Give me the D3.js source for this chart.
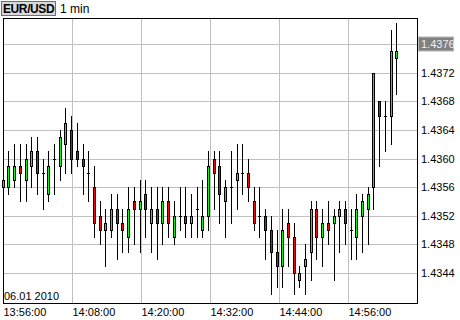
<!DOCTYPE html>
<html>
<head>
<meta charset="utf-8">
<script src="https://cdn.jsdelivr.net/npm/d3@7"></script>
<style>
  body { margin: 0; background: #fff; }
  text { font-family: "Liberation Sans", Arial, sans-serif; }
</style>
</head>
<body>
<script>
const chartWidth = 460;
const chartHeight = 320;
const plotLeft = 3, plotRight = 417, plotTop = 18, plotBottom = 303;

const symbol = "EUR/USD";
const period = "1 min";
const dateLabel = "06.01 2010";
const priceTicks = [1.4344, 1.4348, 1.4352, 1.4356, 1.4360, 1.4364, 1.4368, 1.4372, 1.4376];
const lastPriceTick = 1.4376;
const timeTicks = ["13:56:00", "14:08:00", "14:20:00", "14:32:00", "14:44:00", "14:56:00"];

// one candle per minute, starting 13:56
const opens = [
  1.4356, 1.4356, 1.4357, 1.4359, 1.4357, 1.4359, 1.4361, 1.4358, 1.4355, 1.4360,
  1.4359, 1.4362, 1.4364, 1.4361, 1.4360, 1.4358, 1.4356, 1.4352, 1.4350, 1.4350,
  1.4353, 1.4351, 1.4349, 1.4354, 1.4353, 1.4355, 1.4351, 1.4353, 1.4351, 1.4354,
  1.4349, 1.4352, 1.4352, 1.4351, 1.4353, 1.4350, 1.4352, 1.4360, 1.4359, 1.4354,
  1.4356, 1.4357, 1.4358, 1.4358, 1.4354, 1.4352, 1.4352, 1.4350, 1.4347, 1.4345,
  1.4351, 1.4349, 1.4343, 1.4345, 1.4347, 1.4353, 1.4349, 1.4351, 1.4351, 1.4352,
  1.4353, 1.4350, 1.4349, 1.4352, 1.4353, 1.4356, 1.4368, 1.4366, 1.4366, 1.4374
];
const highs = [
  1.4359, 1.4361, 1.4362, 1.4362, 1.4362, 1.4363, 1.4363, 1.4360, 1.4361, 1.4362,
  1.4364, 1.4367, 1.4366, 1.4365, 1.4362, 1.4361, 1.4359, 1.4354, 1.4353, 1.4355,
  1.4355, 1.4353, 1.4356, 1.4356, 1.4357, 1.4357, 1.4356, 1.4356, 1.4356, 1.4356,
  1.4354, 1.4356, 1.4356, 1.4355, 1.4356, 1.4357, 1.4361, 1.4361, 1.4361, 1.4357,
  1.4361, 1.4362, 1.4362, 1.4360, 1.4356, 1.4356, 1.4353, 1.4352, 1.4350, 1.4353,
  1.4353, 1.4351, 1.4345, 1.4348, 1.4354, 1.4354, 1.4353, 1.4354, 1.4353, 1.4354,
  1.4354, 1.4353, 1.4355, 1.4355, 1.4356, 1.4372, 1.4368, 1.4368, 1.4378, 1.4379
];
const lows = [
  1.4352, 1.4355, 1.4356, 1.4354, 1.4354, 1.4356, 1.4355, 1.4353, 1.4354, 1.4355,
  1.4357, 1.4358, 1.4358, 1.4359, 1.4355, 1.4354, 1.4349, 1.4348, 1.4345, 1.4349,
  1.4346, 1.4347, 1.4347, 1.4348, 1.4347, 1.4349, 1.4347, 1.4346, 1.4348, 1.4349,
  1.4348, 1.4350, 1.4349, 1.4349, 1.4349, 1.4349, 1.4350, 1.4353, 1.4351, 1.4349,
  1.4351, 1.4353, 1.4355, 1.4354, 1.4350, 1.4349, 1.4346, 1.4341, 1.4342, 1.4342,
  1.4345, 1.4341, 1.4342, 1.4341, 1.4343, 1.4346, 1.4345, 1.4348, 1.4343, 1.4347,
  1.4348, 1.4346, 1.4346, 1.4347, 1.4348, 1.4353, 1.4359, 1.4361, 1.4362, 1.4369
];
const closes = [
  1.4357, 1.4359, 1.4359, 1.4358, 1.4360, 1.4361, 1.4358, 1.4358, 1.4359, 1.4360,
  1.4363, 1.4365, 1.4360, 1.4360, 1.4359, 1.4358, 1.4351, 1.4350, 1.4351, 1.4353,
  1.4351, 1.4350, 1.4353, 1.4353, 1.4354, 1.4353, 1.4353, 1.4351, 1.4354, 1.4351,
  1.4352, 1.4352, 1.4351, 1.4352, 1.4353, 1.4352, 1.4359, 1.4358, 1.4355, 1.4356,
  1.4356, 1.4358, 1.4358, 1.4356, 1.4351, 1.4352, 1.4350, 1.4347, 1.4345, 1.4350,
  1.4349, 1.4344, 1.4344, 1.4346, 1.4353, 1.4349, 1.4351, 1.4350, 1.4352, 1.4353,
  1.4351, 1.4350, 1.4353, 1.4354, 1.4355, 1.4372, 1.4366, 1.4366, 1.4375, 1.4375
];

const candles = opens.map((o, i) => ({ i: i, o: o, h: highs[i], l: lows[i], c: closes[i] }));

const parseTime = d3.timeParse("%H:%M:%S");
const xTime = d3.scaleTime()
  .domain([parseTime("13:56:00"), parseTime("15:08:00")])
  .range([plotLeft, plotRight]);
const xCandle = d3.scaleLinear()
  .domain([0, candles.length - 1])
  .range([3.2, 396.8]);
const y = d3.scaleLinear()
  .domain([1.4344, 1.4376])
  .rangeRound([273, 44]);

const svg = d3.select("body")
  .append("svg")
  .attr("width", chartWidth)
  .attr("height", chartHeight);

// price grid + labels on the right
const yAxis = svg.append("g")
  .attr("transform", "translate(" + plotRight + ",0)")
  .call(d3.axisRight(y)
    .tickValues(priceTicks)
    .tickSize(-(plotRight - plotLeft))
    .tickPadding(4)
    .tickFormat(d3.format(".4f")));
yAxis.select(".domain").remove();
yAxis.selectAll("line").attr("stroke", "#c0c0c0");
yAxis.selectAll("text")
  .attr("font-size", 11)
  .attr("font-family", "Liberation Sans, Arial, sans-serif")
  .attr("fill", "#000");

// highlighted last price
const lastTick = yAxis.selectAll(".tick").filter(d => d === lastPriceTick);
lastTick.insert("rect", "text")
  .attr("x", 1.5)
  .attr("y", -7.5)
  .attr("width", 35)
  .attr("height", 14)
  .attr("fill", "#808080")
  .attr("stroke", "#b8b8b8");
lastTick.select("text").attr("fill", "#f0f0f0");

// time grid + labels
const xAxis = svg.append("g")
  .attr("transform", "translate(0," + plotBottom + ")")
  .call(d3.axisBottom(xTime)
    .tickValues(timeTicks.map(parseTime))
    .tickSize(-(plotBottom - plotTop))
    .tickFormat(d3.timeFormat("%H:%M:%S")));
xAxis.select(".domain").remove();
xAxis.selectAll("line").attr("stroke", "#c0c0c0");
xAxis.selectAll("text")
  .attr("font-size", 11)
  .attr("font-family", "Liberation Sans, Arial, sans-serif")
  .attr("fill", "#000")
  .attr("text-anchor", "start")
  .attr("x", 0)
  .attr("y", 13)
  .attr("dy", null);

// frame
svg.append("rect")
  .attr("x", plotLeft + 0.5)
  .attr("y", plotTop + 0.5)
  .attr("width", plotRight - plotLeft)
  .attr("height", plotBottom - plotTop)
  .attr("fill", "none")
  .attr("stroke", "#000");

svg.append("text")
  .attr("x", 4)
  .attr("y", 299.5)
  .attr("font-size", 11)
  .text(dateLabel);

// candles
const cx = d => Math.floor(xCandle(d.i));
const g = svg.append("g");

g.selectAll(".wick")
  .data(candles)
  .enter()
  .append("line")
  .attr("class", "wick")
  .attr("x1", d => cx(d) + 0.5)
  .attr("x2", d => cx(d) + 0.5)
  .attr("y1", d => y(d.h))
  .attr("y2", d => y(d.l) + 1)
  .attr("stroke", "#000");

g.selectAll(".body")
  .data(candles.filter(d => d.o !== d.c))
  .enter()
  .append("rect")
  .attr("class", "body")
  .attr("x", d => cx(d) - 0.5)
  .attr("y", d => y(Math.max(d.o, d.c)) + 0.5)
  .attr("width", 2)
  .attr("height", d => y(Math.min(d.o, d.c)) - y(Math.max(d.o, d.c)))
  .attr("fill", d => d.c > d.o ? "#00ff00" : "#ff0000")
  .attr("stroke", "#000");

g.selectAll(".doji")
  .data(candles.filter(d => d.o === d.c))
  .enter()
  .append("line")
  .attr("class", "doji")
  .attr("x1", d => cx(d) - 1)
  .attr("x2", d => cx(d) + 2)
  .attr("y1", d => y(d.o) + 0.5)
  .attr("y2", d => y(d.o) + 0.5)
  .attr("stroke", "#000");

// title
svg.append("rect")
  .attr("x", 1.5)
  .attr("y", 1.5)
  .attr("width", 54)
  .attr("height", 14)
  .attr("fill", "#d8d8d8")
  .attr("stroke", "#707070");
svg.append("text")
  .attr("x", 3)
  .attr("y", 13)
  .attr("font-size", 12)
  .attr("font-weight", "bold")
  .attr("letter-spacing", -0.4)
  .text(symbol);
svg.append("text")
  .attr("x", 60)
  .attr("y", 13)
  .attr("font-size", 12)
  .text(period);
</script>
</body>
</html>
